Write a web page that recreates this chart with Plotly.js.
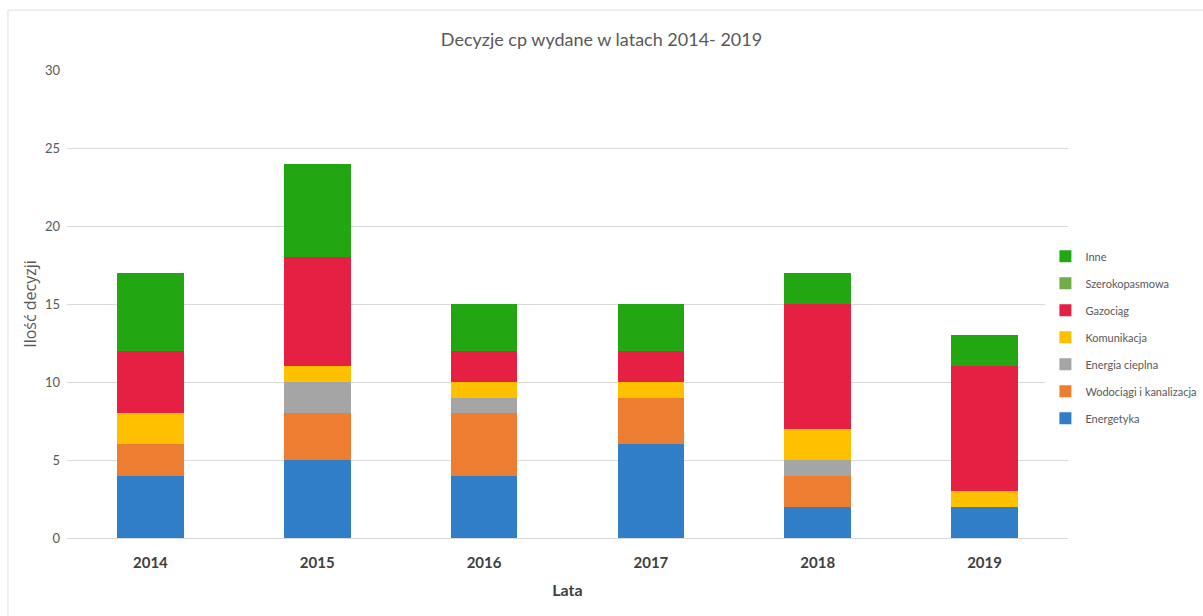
<!DOCTYPE html>
<html><head><meta charset="utf-8">
<script src="https://cdn.plot.ly/plotly-3.0.1.min.js"></script>
<style>html,body{margin:0;padding:0;background:#fff}#c{width:1203px;height:616px}</style>
</head><body><div id="c"></div>
<script>
const years = ['2014','2015','2016','2017','2018','2019'];
const energetyka = [4,5,4,6,2,2];
const wodociagi = [2,3,4,3,2,0];
const energiaCieplna = [0,2,1,0,1,0];
const komunikacja = [2,1,1,1,2,1];
const gazociag = [4,7,2,2,8,8];
const szerokopasmowa = [0,0,0,0,0,0];
const inne = [5,6,3,3,2,2];
const seriesNames = ['Energetyka','Wodociągi i kanalizacja','Energia cieplna','Komunikacja','Gazociąg','Szerokopasmowa','Inne'];
const seriesValues = [energetyka,wodociagi,energiaCieplna,komunikacja,gazociag,szerokopasmowa,inne];
const colors = ['#2F7EC7','#ED7D31','#A5A5A5','#FFC000','#E62042','#70AD47','#22A612'];
const font = 'Lato, "Open Sans", sans-serif';
const traces = seriesNames.map((n,i)=>({type:'bar',name:n,legendgroup:'g'+i,legendrank:(seriesNames.length-i)*10,x:years,y:seriesValues[i],marker:{color:colors[i]},hoverinfo:'skip'}));
Plotly.newPlot('c',traces,{
  width:1203,height:616,barmode:'stack',bargap:0.6,
  margin:{l:67,r:135,t:70,b:78,autoexpand:false},
  paper_bgcolor:'#fff',plot_bgcolor:'#fff',
  font:{family:font,color:'#595959'},
  title:{text:'Decyzje cp wydane w latach 2014- 2019',font:{size:18,color:'#595959',family:font},x:0.5,xanchor:'center',y:0.935,yanchor:'middle'},
  xaxis:{type:'category',tickfont:{size:15,color:'#404040',family:font,weight:'bold'},ticklabelstandoff:14,automargin:false,
    title:{text:'<b>Lata</b>',font:{size:16,color:'#404040'},standoff:14},showline:false,ticks:'',ticklen:0},
  yaxis:{range:[0,30],dtick:5,tickfont:{size:13,color:'#595959'},gridcolor:'#d9d9d9',zeroline:true,zerolinecolor:'#d9d9d9',automargin:false,ticklabelstandoff:6,
    title:{text:'Ilość decyzji',font:{size:16,color:'#595959',family:'"Open Sans", sans-serif'},standoff:4},ticks:''},
  legend:{traceorder:'grouped',xref:'container',x:0.869,xanchor:'left',yref:'paper',y:0.633,yanchor:'top',font:{size:11,color:'#595959',family:'Lato, sans-serif'},itemwidth:30,tracegroupgap:8,itemclick:false},
  shapes:[{type:'line',xref:'paper',yref:'paper',x0:-0.059,x1:1.2,y0:1.128,y1:1.128,line:{color:'#e0e0e0',width:1}},
          {type:'line',xref:'paper',yref:'paper',x0:-0.059,x1:-0.059,y0:1.128,y1:-0.2,line:{color:'#e0e0e0',width:1}}]
},{displayModeBar:false,staticPlot:true});
</script></body></html>
